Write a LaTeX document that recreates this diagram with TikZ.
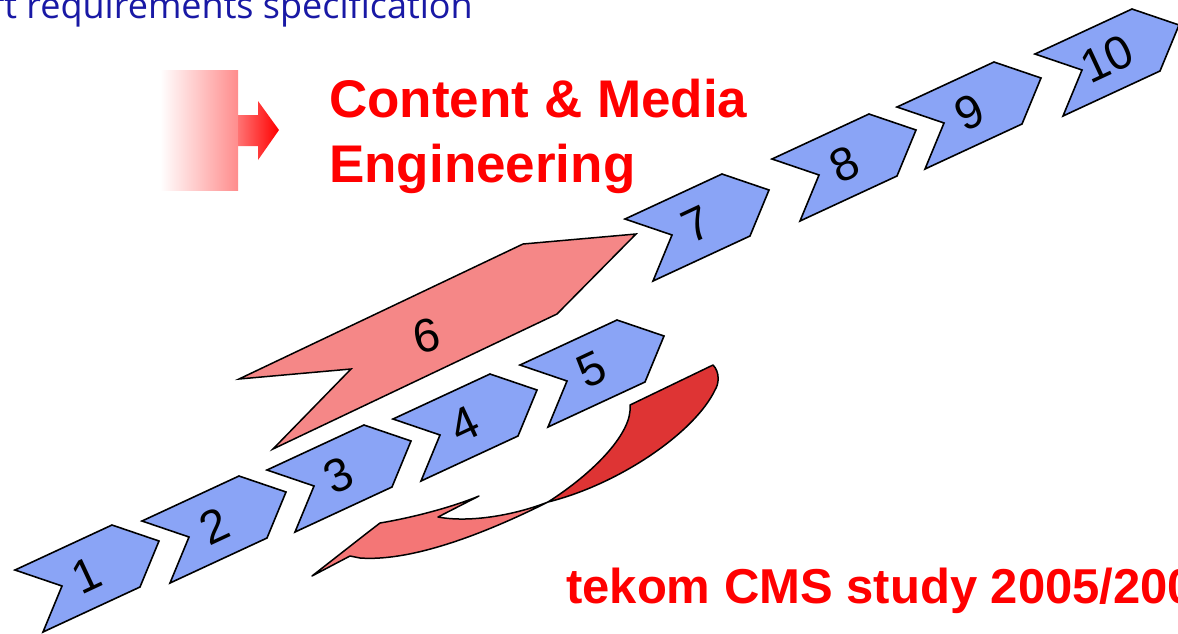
\documentclass[tikz,border=0pt]{standalone}
\usepackage{fontspec}
\setmainfont{Liberation Sans}
\newfontfamily\topfont{Open Sans}
\definecolor{chevblue}{RGB}{138,164,246}
\definecolor{sixred}{RGB}{245,135,135}
\definecolor{darkred}{RGB}{222,52,52}
\definecolor{lightred}{RGB}{244,118,118}
\definecolor{topblue}{RGB}{25,25,165}
\newcommand\mychev[4]{%
  \draw[chev] (#1,#2) -- ++(97,-45) -- ++(47,16) -- ++(-19,46) -- ++(-97,45) -- ++(19,-46) -- cycle;
  \node[digit] (#3) at (#1+72,#2+5) {#4};
}
\begin{document}
\begin{tikzpicture}[x=1pt,y=-1pt,
  chev/.style={draw=black, line width=1.6pt, fill=chevblue, line join=miter},
  redshape/.style={draw=black, line width=1.5pt, line join=round},
  digit/.style={font=\fontsize{47}{47}\selectfont, rotate=25, inner sep=0pt},
  title/.style={font=\bfseries\fontsize{53}{60}\selectfont, text=red, anchor=base west, inner sep=0pt}]
\useasboundingbox[fill=white] (0,0) rectangle (1178,633);

% top text
\node[font=\topfont\fontsize{36}{36}\selectfont, text=topblue, anchor=base east, inner sep=0pt] (toptext) at (473,18) {ft requirements specification};

% gradient arrow
\shade[left color=white, right color=red!45] (160,70) rectangle (238,190);
\shade[left color=red!55, right color=red] (238,115) -- (258,115) -- (258,101) -- (279,130) -- (258,160) -- (258,146) -- (238,146) -- cycle;

% title
\node[title] (titleA) at (329,117) {Content \& Media};
\node[title] (titleB) at (329,182) {Engineering};

% chevrons
\mychev{15}{570}{c1}{1}
\mychev{142}{521}{c2}{2}
\mychev{267}{470}{c3}{3}
\mychev{393}{419}{c4}{4}
\mychev{520}{365}{c5}{5}
\mychev{625}{219}{c7}{7}
\mychev{772}{159}{c8}{8}
\mychev{897}{107}{c9}{9}
\mychev{1035}{54}{c10}{10}

% big red chevron 6
\draw[redshape, fill=sixred, line join=miter] (239,379) -- (523,244) -- (636,234) -- (557,314) -- (273,449) -- (351,369) -- cycle;
\node[digit, rotate=-12] (c6) at (427,336) {6};

% curved arrow: back (dark) part
\draw[redshape, fill=darkred] (548,502) .. controls (595,472) and (633,432) .. (630,405)
  -- (713,365) .. controls (720,372) and (719,384) .. (715,390)
  .. controls (695,432) and (620,484) .. cycle;
% curved arrow: front (light) part with head
\draw[redshape, fill=lightred] (548,502) .. controls (492,530) and (415,562) .. (360,558)
  -- (350,556) -- (312,576) -- (367,533) -- (380,523)
  .. controls (410,518) and (450,508) .. (479,496)
  -- (438,517) .. controls (470,523) and (515,515) .. cycle;

% bottom text
\node[font=\bfseries\fontsize{49}{49}\selectfont, text=red, anchor=base west, inner sep=0pt] (study) at (566,603) {tekom CMS study 2005/2006};
\end{tikzpicture}
\end{document}
